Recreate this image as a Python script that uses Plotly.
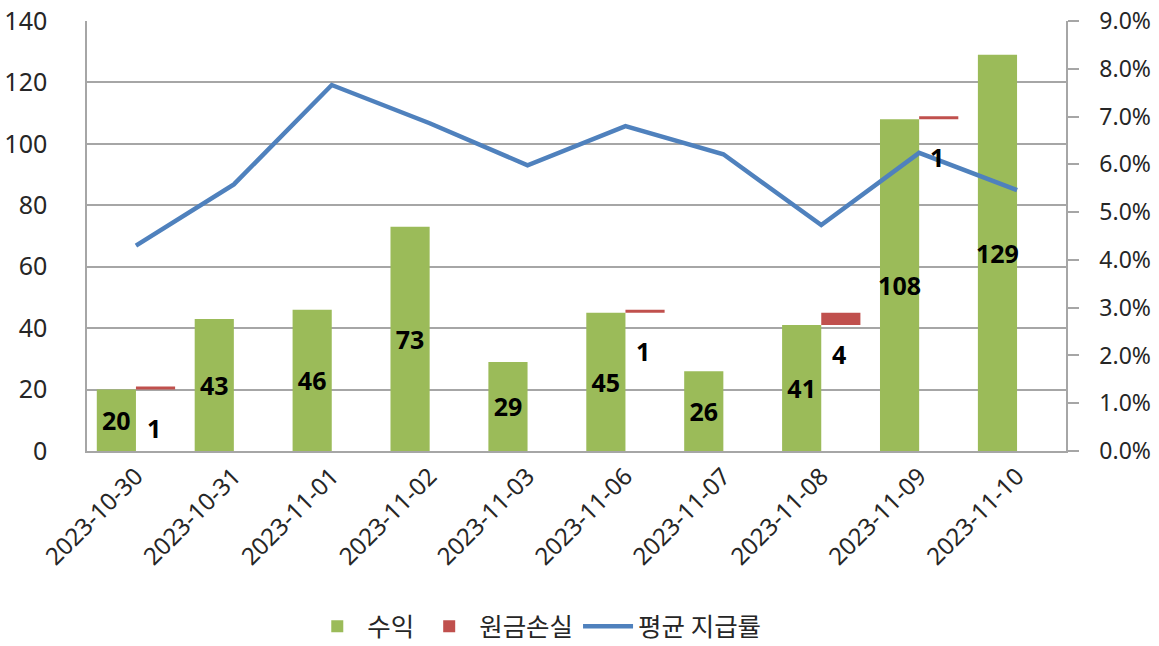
import plotly.graph_objects as go

dates = ["2023-10-30", "2023-10-31", "2023-11-01", "2023-11-02", "2023-11-03",
         "2023-11-06", "2023-11-07", "2023-11-08", "2023-11-09", "2023-11-10"]
profit = [20, 43, 46, 73, 29, 45, 26, 41, 108, 129]
loss = [1, 0, 0, 0, 0, 1, 0, 4, 1, 0]
avg_rate = [0.0430, 0.0558, 0.0766, 0.0686, 0.0598, 0.0680, 0.0621, 0.0473, 0.0624, 0.0546]

FONT = "Noto Sans, Noto Sans CJK KR"
KFONT = "Noto Sans CJK KR"
GREEN = "#9BBB59"
RED = "#C0504D"
BLUE = "#4F81BD"
GRID = "#A6A6A6"
TXT = "#262626"

fig = go.Figure()

fig.add_trace(go.Bar(
    x=dates, y=profit, name="수익",
    marker=dict(color=GREEN, line=dict(width=0)),
    offset=-0.4, width=0.4,
    text=[str(v) for v in profit], textposition="inside",
    insidetextanchor="middle", constraintext="none", textangle=0,
    textfont=dict(family=FONT, size=25, color="black", weight="bold"),
))

loss_x = [d for d, l in zip(dates, loss) if l > 0]
loss_y = [l for l in loss if l > 0]
loss_base = [p for p, l in zip(profit, loss) if l > 0]

fig.add_trace(go.Bar(
    x=loss_x, y=loss_y, base=loss_base, name="원금손실",
    marker=dict(color=RED, line=dict(width=0)),
    offset=0.0, width=0.4,
))

fig.add_trace(go.Scatter(
    x=dates, y=avg_rate, name="평균 지급률", yaxis="y2",
    mode="lines", line=dict(color=BLUE, width=4.5),
))

for d, l, b in zip(loss_x, loss_y, loss_base):
    fig.add_annotation(
        x=d, y=b + l, xref="x", yref="y", text=str(l), showarrow=False,
        xshift=18, yshift=-41, yanchor="middle",
        font=dict(family=FONT, size=25, color="black", weight="bold"),
    )

fig.update_layout(
    width=1159, height=646,
    margin=dict(l=87, r=93, t=21, b=195, autoexpand=False),
    paper_bgcolor="white", plot_bgcolor="white",
    barmode="overlay",
    font=dict(family=FONT, size=24, color=TXT),
    showlegend=True,
    legend=dict(orientation="h", x=0.225, xanchor="left", y=0.03, yanchor="middle",
                yref="container",
                font=dict(family=KFONT, size=25.5, color=TXT), itemwidth=50,
                traceorder="normal"),
    xaxis=dict(type="category", range=[-0.5, 9.5], tickangle=-45, automargin=False,
               showline=True, linecolor=GRID, linewidth=1.5,
               showgrid=False, ticks="", tickfont=dict(size=24)),
    yaxis=dict(range=[0, 140], dtick=20, showgrid=True, gridcolor=GRID, gridwidth=1.5,
               showline=True, linecolor=GRID, linewidth=1.5, ticks="", automargin=False,
               zeroline=False, tickfont=dict(size=25), ticklabelstandoff=33,
               ticklabeloverflow="allow"),
    yaxis2=dict(range=[0, 0.09], dtick=0.01, tickformat=".1%", overlaying="y", side="right",
                showgrid=False, showline=True, linecolor=GRID, linewidth=1.5, automargin=False,
                ticks="outside", ticklen=11, tickcolor=GRID, tickwidth=1.5,
                zeroline=False, tickfont=dict(size=23), ticklabelstandoff=16,
                ticklabeloverflow="allow"),
)

fig.write_html("out.html", config={"displayModeBar": False},
               post_script="document.body.style.margin='0px';")
